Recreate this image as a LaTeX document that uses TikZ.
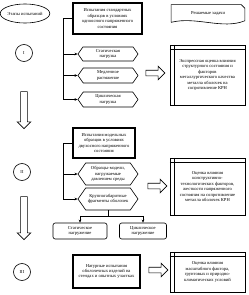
\documentclass[tikz,border=0pt]{standalone}
\usepackage{fontspec}
\setmainfont{Liberation Serif}
\usetikzlibrary{shapes.geometric, shapes.symbols, shapes.arrows, arrows.meta, positioning}
\newcommand{\boxfont}{\fontsize{5.2}{6.2}\selectfont}
\tikzset{
    every picture/.style={line width=0.7pt},
    % Node styles
    stagebox/.style={
        ellipse,
        draw,
        minimum width=1.76cm,
        minimum height=0.76cm,
        inner sep=0pt,
        font=\boxfont
    },
    stagecircle/.style={
        circle,
        draw,
        minimum size=0.68cm,
        inner sep=0pt,
        font=\boxfont
    },
    testbox/.style={
        rectangle,
        draw,
        line width=1.7pt,
        align=center,
        inner sep=1pt,
        font=\boxfont
    },
    loadhex/.style={
        signal,
        signal to=west and east,
        signal pointer angle=110,
        draw,
        minimum width=2.4cm,
        align=center,
        inner sep=1pt,
        font=\boxfont
    },
    loadbox/.style={
        rectangle,
        rounded corners=2.5pt,
        draw,
        minimum height=0.64cm,
        align=center,
        inner sep=1pt,
        font=\boxfont
    },
    resultbox/.style={
        rectangle,
        draw,
        minimum width=3cm,
        align=center,
        inner sep=1pt,
        font=\boxfont,
        path picture={
            \draw ([yshift=-0.18cm]path picture bounding box.north west) -- ([yshift=-0.18cm]path picture bounding box.north east);
            \draw ([xshift=0.16cm]path picture bounding box.north west) -- ([xshift=0.16cm]path picture bounding box.south west);
        }
    },
    % Hollow arrows
    flowdown/.style={
        single arrow,
        draw,
        shape border rotate=270,
        inner sep=0.12cm,
        single arrow head extend=0.14cm
    },
    flowright/.style={
        single arrow,
        draw,
        minimum height=0.76cm,
        inner sep=0.1cm,
        single arrow head extend=0.16cm
    },
    % Arrow styles
    myarrow/.style={
        ->,
        >={Stealth[length=3.5pt,width=3pt]}
    }
}
\begin{document}
\begin{tikzpicture}[x=0.04cm, y=-0.04cm]
    \useasboundingbox (0,0) rectangle (248,295);

    % Header
    \node[stagebox] (stages) at (25,13.5) {Этапы испытаний};
    \node[font=\boxfont, minimum width=2.92cm, minimum height=0.68cm] (tasks) at (208,13.5) {Решаемые задачи};
    \draw (tasks.south west) -- (tasks.north west) -- ([xshift=-0.14cm]tasks.north east)
        -- ([yshift=-0.14cm]tasks.north east) -- ([yshift=0.06cm]tasks.south east)
        .. controls ([xshift=-0.9cm,yshift=-0.3cm]tasks.south east) and ([xshift=1cm,yshift=0.25cm]tasks.south west) .. (tasks.south west);

    % Stage I
    \node[stagecircle] (stI) at (24,53) {I};
    \node[testbox, minimum width=2.76cm, minimum height=1.24cm] (test1) at (107.5,18.5)
        {Испытания стандартных\\образцов в условиях\\одноосного напряженного\\состояния};
    \node[loadhex, minimum height=0.56cm] (hexA) at (108,54) {Статическая\\нагрузка};
    \node[loadhex, minimum height=0.6cm] (hexB) at (108,75.5) {Медленное\\растяжение};
    \node[loadhex, minimum height=0.6cm] (hexC) at (108,99.5) {Циклическая\\нагрузка};
    \coordinate (busA) at ([xshift=-0.36cm]test1.west);
    \draw (test1.west) -- (busA) -- (busA |- hexC.west);
    \foreach \n in {hexA,hexB,hexC} {
        \draw[myarrow] (busA |- \n.west) -- (\n.west);
    }
    \node[resultbox, minimum height=2.4cm] (res1) at (207.5,75)
        {Экспрессная оценка влияния\\структурного состояния и\\факторов\\металлургического качества\\металла оболочек на\\сопротивление КРН};
    \node[flowright] (arr1) at (154,73) {};
    \node[flowdown, minimum height=1.48cm] (down1) at (24,108.5) {};

    % Stage II
    \node[stagecircle] (stII) at (22,172) {II};
    \node[testbox, minimum width=2.48cm, minimum height=1.2cm] (test2) at (104,143)
        {Испытания модельных\\образцов в условиях\\двухосного напряженного\\состояния};
    \node[loadhex, minimum height=0.88cm] (hexD) at (108,174) {Образцы-модели,\\нагружаемые\\давлением среды};
    \node[loadhex, minimum height=0.88cm] (hexE) at (108,199) {Крупногабаритные\\фрагменты оболочек};
    \coordinate (busB) at ([xshift=-0.36cm]test2.west);
    \draw (test2.west) -- (busB) -- (busB |- hexE.west);
    \foreach \n in {hexD,hexE} {
        \draw[myarrow] (busB |- \n.west) -- (\n.west);
    }
    \node[loadbox, minimum width=2.16cm] (loadA) at (80,231) {Статическое\\нагружение};
    \node[loadbox, minimum width=1.88cm] (loadB) at (143,231) {Циклическое\\нагружение};
    \coordinate (fork) at ([yshift=-0.22cm]hexE.south);
    \draw (hexE.south) -- (fork);
    \draw (fork -| loadA.north) -- (fork -| loadB.north);
    \draw[myarrow] (fork -| loadA.north) -- (loadA.north);
    \draw[myarrow] (fork -| loadB.north) -- (loadB.north);
    \node[resultbox, minimum height=2.28cm] (res2) at (207.5,186.5)
        {Оценка влияния\\конструктивно-\\технологических факторов,\\жесткости напряженного\\состояния на сопротивление\\металла оболочек КРН};
    \node[flowright] (arr2) at (156,186) {};
    \node[flowdown, minimum height=1.72cm] (down2) at (24,216.5) {};

    % Stage III
    \node[stagecircle] (stIII) at (22,272) {III};
    \node[testbox, minimum width=2.68cm, minimum height=1.32cm] (test3) at (106.5,271.5)
        {Натурные испытания\\оболочечных изделий на\\стендах и опытных участках};
    \node[resultbox, minimum height=1.6cm] (res3) at (207.5,272)
        {Оценка влияния\\масштабного фактора,\\грунтовых и природно-\\климатических условий};
    \node[flowright] (arr3) at (157,270) {};
\end{tikzpicture}
\end{document}
